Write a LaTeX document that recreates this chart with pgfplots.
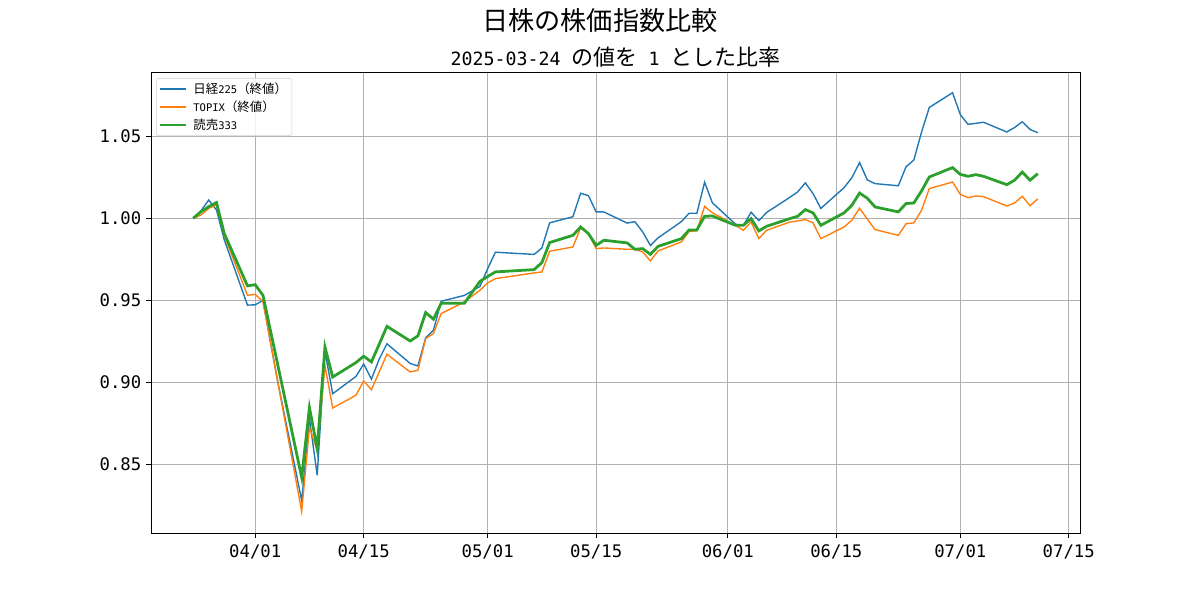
\documentclass[border=0pt]{standalone}
\usepackage{fontspec}
\setmainfont{DejaVu Sans Mono}
\newfontfamily\ja{Noto Sans CJK JP}
\usepackage{pgfplots}
\usepackage{pgfplotstable}
\pgfplotsset{compat=1.18}
\definecolor{c1}{HTML}{1F77B4}
\definecolor{c2}{HTML}{FF7F0E}
\definecolor{c3}{HTML}{2CA02C}
\definecolor{gridc}{HTML}{B0B0B0}
\newcommand\lgJ[1]{{\ja\fontsize{9}{10}\selectfont #1}}
\newcommand\stJ[1]{{\ja\fontsize{15.9}{17}\selectfont #1}}

% day index: 0 = 2025-03-24
\pgfplotstableread{
d v
0 1.000000
1 1.004575
2 1.011136
3 1.005091
4 0.987020
7 0.947061
8 0.947245
9 0.949941
10 0.923620
11 0.898218
14 0.827913
15 0.877796
16 0.843267
17 0.918800
18 0.893033
21 0.903583
22 0.911166
23 0.901935
24 0.914091
25 0.923469
28 0.911494
29 0.909917
30 0.927148
31 0.931682
32 0.949406
35 0.952976
37 0.958437
38 0.969257
39 0.979318
44 0.977962
45 0.981923
46 0.997204
49 1.000951
50 1.015283
51 1.013817
52 1.003909
53 1.003862
56 0.997079
57 0.997899
58 0.991770
59 0.983445
60 0.988087
63 0.997954
64 1.003074
65 1.003029
66 1.021923
67 1.009482
70 0.996335
71 0.995701
72 1.003695
73 0.998564
74 1.003540
77 1.012765
78 1.016034
79 1.021610
80 1.015013
81 1.006003
84 1.018689
85 1.024682
86 1.033946
87 1.023395
88 1.021132
91 1.019825
92 1.031431
93 1.035460
94 1.052544
95 1.067599
98 1.076550
99 1.063227
100 1.057275
101 1.057898
102 1.058562
105 1.052626
106 1.055316
107 1.058838
108 1.054187
109 1.052148
}\nikkei

\pgfplotstableread{
d v
0 1.0000
1 1.0020
2 1.0060
3 1.0083
4 0.9895
7 0.9531
8 0.9536
9 0.9492
10 0.9236
11 0.8980
14 0.8212
15 0.8724
16 0.8585
17 0.9104
18 0.8843
21 0.8921
22 0.9008
23 0.8955
24 0.9063
25 0.9171
28 0.9063
29 0.9073
30 0.9266
31 0.9297
32 0.9419
35 0.9490
37 0.9561
38 0.9606
39 0.9632
44 0.9667
45 0.9673
46 0.9799
49 0.9825
50 0.9942
51 0.9907
52 0.9815
53 0.9819
56 0.9811
57 0.9811
58 0.9795
59 0.9740
60 0.9801
63 0.9856
64 0.9920
65 0.9924
66 1.0073
67 1.0034
70 0.9957
71 0.9927
72 0.9977
73 0.9876
74 0.9927
77 0.9977
78 0.9984
79 0.9992
80 0.9972
81 0.9876
84 0.9947
85 0.9988
86 1.0061
87 0.9995
88 0.9931
91 0.9896
92 0.9967
93 0.9972
94 1.0049
95 1.0181
98 1.0221
99 1.0146
100 1.0126
101 1.0136
102 1.0132
105 1.0075
106 1.0093
107 1.0134
108 1.0077
109 1.0118
}\topix

\pgfplotstableread{
d v
0 1.0000
1 1.0040
2 1.0071
3 1.0096
4 0.9908
7 0.9588
8 0.9595
9 0.9530
10 0.9308
11 0.9086
14 0.8420
15 0.8846
16 0.8596
17 0.9215
18 0.9032
21 0.9120
22 0.9159
23 0.9124
24 0.9232
25 0.9341
28 0.9252
29 0.9283
30 0.9425
31 0.9385
32 0.9482
35 0.9482
37 0.9615
38 0.9645
39 0.9673
44 0.9687
45 0.9730
46 0.9852
49 0.9896
50 0.9947
51 0.9907
52 0.9835
53 0.9866
56 0.9850
57 0.9811
58 0.9815
59 0.9780
60 0.9829
63 0.9876
64 0.9929
65 0.9929
66 1.0012
67 1.0014
70 0.9957
71 0.9957
72 0.9998
73 0.9923
74 0.9951
77 0.9998
78 1.0012
79 1.0053
80 1.0033
81 0.9957
84 1.0033
85 1.0079
86 1.0154
87 1.0122
88 1.0069
91 1.0039
92 1.0090
93 1.0093
94 1.0167
95 1.0252
98 1.0309
99 1.0268
100 1.0256
101 1.0266
102 1.0256
105 1.0205
106 1.0232
107 1.0282
108 1.0232
109 1.0272
}\yomiuri

\begin{document}
\begin{tikzpicture}
\useasboundingbox (0,0) rectangle (864bp,432bp);
\begin{axis}[
  at={(108.72bp,48.24bp)}, anchor=south west,
  scale only axis, width=668.88bp, height=331.92bp,
  xmin=-5.45, xmax=114.45, ymin=0.8081, ymax=1.0892,
  xtick={8,22,38,52,69,83,99,113},
  xticklabels={04/01,04/15,05/01,05/15,06/01,06/15,07/01,07/15},
  ytick={0.85,0.9,0.95,1,1.05},
  /pgf/number format/assume math mode=true,
  yticklabel style={/pgf/number format/.cd, fixed, fixed zerofill, precision=2},
  xticklabel style={yshift=-1.5bp},
  tick align=outside, tick pos=left,
  major tick length=3.5bp,
  grid=major, grid style={gridc, line width=0.8bp},
  axis line style={line width=0.7bp},
  every tick/.style={black, line width=0.8bp},
  tick label style={font=\fontsize{12.5}{14}\selectfont},
  legend style={at={(0,1)}, xshift=3.6bp, yshift=-4.3bp, anchor=north west,
    draw=gray!35, fill=white, fill opacity=0.8, text opacity=1, rounded corners=2bp,
    font=\fontsize{7.6}{9}\selectfont, inner xsep=2bp, inner ysep=1.2bp, row sep=0pt,
    column sep=2.5bp,
    nodes={inner sep=1.5bp, text height=8.5bp, text depth=1.5bp}},
  legend cell align=left,
  legend image code/.code={\draw[#1] (0bp,0bp) -- (18.7bp,0bp);},
]
\addplot[c1, line width=1bp] table[x=d,y=v] {\nikkei};
\addlegendentry{\lgJ{日経}225\lgJ{（終値）}}
\addplot[c2, line width=1bp] table[x=d,y=v] {\topix};
\addlegendentry{TOPIX\lgJ{（終値）}}
\addplot[c3, line width=2bp] table[x=d,y=v] {\yomiuri};
\addlegendentry{\lgJ{読売}333}
\end{axis}
\node[anchor=base, inner sep=0pt, font=\ja\fontsize{18.9}{20}\selectfont] at (432bp,409.7bp) {日株の株価指数比較};
\node[anchor=base, inner sep=0pt, font=\fontsize{13.2}{15}\selectfont] at (443.2bp,384.9bp) {2025-03-24 \stJ{の値を} 1 \stJ{とした比率}};
\end{tikzpicture}
\end{document}
